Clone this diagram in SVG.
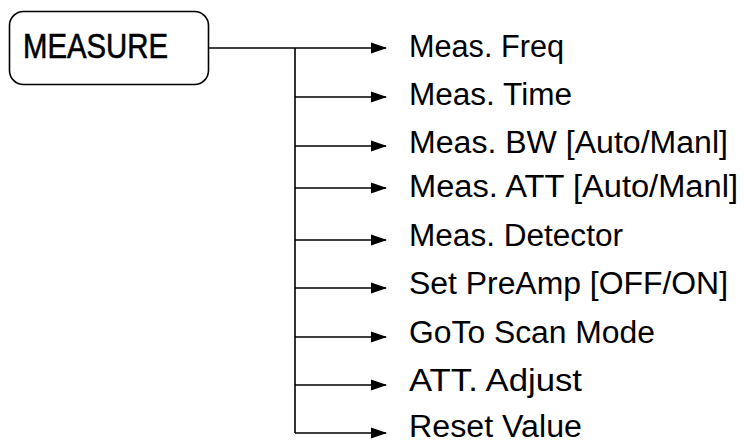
<svg xmlns="http://www.w3.org/2000/svg" width="744" height="442" viewBox="0 0 744 442">
<defs>
<marker id="ah" markerWidth="16" markerHeight="12" refX="15" refY="6" orient="auto" markerUnits="userSpaceOnUse">
<path d="M0,0.5 L16,6 L0,11.5 Z" fill="#000"/>
</marker>
<style>
.ln{stroke:#000;stroke-width:1.6;fill:none}
.ar{stroke:#000;stroke-width:1.6;fill:none;marker-end:url(#ah)}
.lb{font-family:"Liberation Sans",Arial,sans-serif;font-size:31px;fill:#000}
.hd{font-family:"Liberation Sans",Arial,sans-serif;font-size:35px;fill:#000;stroke:#000;stroke-width:0.6}
</style>
</defs>
<rect width="744" height="442" fill="#fff"/>
<g id="measure">
<rect x="9.5" y="11.5" width="199" height="73" rx="14" ry="14" fill="#fff" stroke="#000" stroke-width="1.6"/>
<text class="hd" x="23" y="58" textLength="145" lengthAdjust="spacingAndGlyphs">MEASURE</text>
</g>
<g id="connectors">
<line class="ar" x1="209" y1="48" x2="386" y2="48"/>
<line class="ln" x1="295" y1="48" x2="295" y2="433"/>
<line class="ar" x1="295" y1="97" x2="386" y2="97"/>
<line class="ar" x1="295" y1="146" x2="386" y2="146"/>
<line class="ar" x1="295" y1="188" x2="386" y2="188"/>
<line class="ar" x1="295" y1="240" x2="386" y2="240"/>
<line class="ar" x1="295" y1="288" x2="386" y2="288"/>
<line class="ar" x1="295" y1="337" x2="386" y2="337"/>
<line class="ar" x1="295" y1="385" x2="386" y2="385"/>
<line class="ar" x1="295" y1="433" x2="386" y2="433"/>
</g>
<g id="n1"><text class="lb" x="409" y="57" textLength="155" lengthAdjust="spacingAndGlyphs">Meas. Freq</text></g>
<g id="n2"><text class="lb" x="409" y="105" textLength="163" lengthAdjust="spacingAndGlyphs">Meas. Time</text></g>
<g id="n3"><text class="lb" x="409" y="153" textLength="319" lengthAdjust="spacingAndGlyphs">Meas. BW [Auto/Manl]</text></g>
<g id="n4"><text class="lb" x="409" y="197" textLength="329" lengthAdjust="spacingAndGlyphs">Meas. ATT [Auto/Manl]</text></g>
<g id="n5"><text class="lb" x="409" y="246" textLength="214" lengthAdjust="spacingAndGlyphs">Meas. Detector</text></g>
<g id="n6"><text class="lb" x="409" y="294" textLength="319" lengthAdjust="spacingAndGlyphs">Set PreAmp [OFF/ON]</text></g>
<g id="n7"><text class="lb" x="409" y="343" textLength="246" lengthAdjust="spacingAndGlyphs">GoTo Scan Mode</text></g>
<g id="n8"><text class="lb" x="409" y="391" textLength="173" lengthAdjust="spacingAndGlyphs">ATT. Adjust</text></g>
<g id="n9"><text class="lb" x="409" y="437" textLength="173" lengthAdjust="spacingAndGlyphs">Reset Value</text></g>
</svg>
